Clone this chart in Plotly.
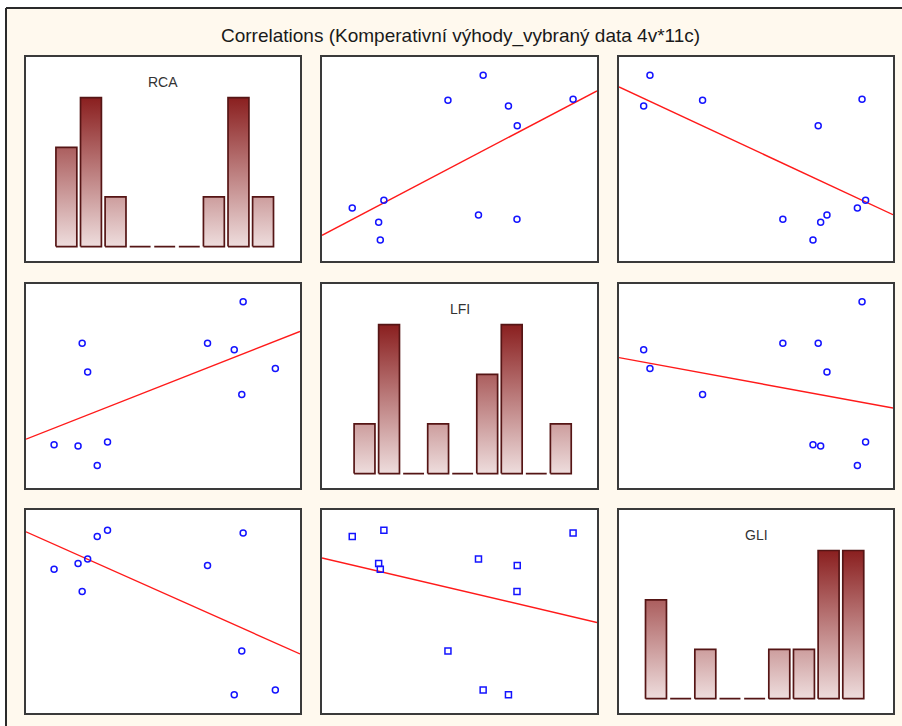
import numpy as np
import plotly.graph_objects as go

# ---------------- data (11 cases, 3 variables) ----------------
variables = ["RCA", "LFI", "GLI"]
rca = [3.17, 0.82, 2.65, 3.04, 0.90, 3.64, 3.15, 0.41, 0.76, 1.19, 1.04]
lfi = [8.26, 4.18, 4.20, 3.56, 1.38, 1.72, -0.84, -5.76, -5.88, -5.50, -7.80]
gli = [0.887, 0.598, 0.727, 0.090, 0.759, 0.113, 0.305, 0.708, 0.736, 0.900, 0.870]
n_bins = 9
title_text = "Correlations (Komperativní výhody_vybraný data 4v*11c)"

data = {"RCA": rca, "LFI": lfi, "GLI": gli}
var_ranges = {"RCA": [0, 4], "LFI": [-10, 10], "GLI": [0, 1]}

# ---------------- layout geometry (pixels) ----------------
W, H = 902, 726
col_px = [(26, 300), (322, 597), (619, 893)]
row_px = [(57, 261), (284, 488), (510, 713)]
hist_yrange = [-0.29, 3.82]

CREAM = "#FFF9EE"
BAR_LIGHT = "#EEDDDD"
BAR_DARK = "#8A1F1F"
BAR_EDGE = "#551515"
PT_COLOR = "#1414FF"

fig = go.Figure()
layout = dict(
    width=W, height=H,
    margin=dict(l=0, r=0, t=0, b=0),
    paper_bgcolor=CREAM, plot_bgcolor="white",
    showlegend=False,
)
annotations = []

for i, yv in enumerate(variables):
    for j, xv in enumerate(variables):
        k = i * 3 + j + 1
        xa = "x" if k == 1 else f"x{k}"
        ya = "y" if k == 1 else f"y{k}"
        xkey = "xaxis" if k == 1 else f"xaxis{k}"
        ykey = "yaxis" if k == 1 else f"yaxis{k}"
        x0p, x1p = col_px[j]
        y0p, y1p = row_px[i]
        common = dict(showgrid=False, zeroline=False, showticklabels=False, ticks="",
                      showline=True, mirror=True, linecolor="#3a3a3a", linewidth=1.6,
                      fixedrange=True)
        layout[xkey] = dict(domain=[x0p / W, x1p / W], anchor=ya,
                            range=var_ranges[xv], **common)
        if i == j:
            vals = np.array(data[xv], dtype=float)
            counts, edges = np.histogram(vals, bins=n_bins)
            gap = 0.15 * (edges[1] - edges[0])
            xs, ys = [], []
            for c, a, b in zip(counts, edges[:-1], edges[1:]):
                l, r = a + gap / 2, b - gap / 2
                xs += [l, l, r, r, l, None]
                ys += [0, c, c, 0, 0, None]
            fig.add_trace(go.Scatter(
                x=xs, y=ys, xaxis=xa, yaxis=ya, mode="lines", fill="toself",
                fillgradient=dict(type="vertical",
                                  colorscale=[[0, BAR_LIGHT], [1, BAR_DARK]],
                                  start=0, stop=float(counts.max())),
                line=dict(color=BAR_EDGE, width=1.7), hoverinfo="skip"))
            layout[ykey] = dict(domain=[1 - y1p / H, 1 - y0p / H], anchor=xa,
                                range=hist_yrange, **common)
            annotations.append(dict(
                text=xv, xref=f"{xa} domain", yref=f"{ya} domain", x=0.5, y=0.877,
                xanchor="center", yanchor="middle",
                showarrow=False, font=dict(family="Arial, Liberation Sans", size=14,
                                           color="#333333")))
        else:
            xd = np.array(data[xv], dtype=float)
            yd = np.array(data[yv], dtype=float)
            slope, icpt = np.polyfit(xd, yd, 1)
            lx = np.array(var_ranges[xv], dtype=float)
            fig.add_trace(go.Scatter(
                x=lx, y=icpt + slope * lx, xaxis=xa, yaxis=ya, mode="lines",
                line=dict(color="#FF1A1A", width=1.4), hoverinfo="skip"))
            sym = "square-open" if (i == 2 and j == 1) else "circle-open"
            fig.add_trace(go.Scatter(
                x=xd, y=yd, xaxis=xa, yaxis=ya, mode="markers",
                marker=dict(symbol=sym, size=6, color=PT_COLOR,
                            line=dict(color=PT_COLOR, width=1.5))))
            layout[ykey] = dict(domain=[1 - y1p / H, 1 - y0p / H], anchor=xa,
                                range=var_ranges[yv], **common)

annotations.append(dict(
    text=title_text, xref="paper", yref="paper", x=460 / W, y=1 - 36 / H,
    xanchor="center", yanchor="middle",
    showarrow=False, font=dict(family="Arial, Liberation Sans", size=19, color="#1a1a1a")))
layout["annotations"] = annotations

# outer frame: white margin strips + dark border line
layout["shapes"] = [
    dict(type="rect", xref="paper", yref="paper", x0=0, x1=6 / W, y0=0, y1=1,
         fillcolor="white", line=dict(width=0)),
    dict(type="rect", xref="paper", yref="paper", x0=0, x1=1, y0=1 - 8 / H, y1=1,
         fillcolor="white", line=dict(width=0)),
    dict(type="line", xref="paper", yref="paper", x0=6 / W, x1=1, y0=1 - 8 / H, y1=1 - 8 / H,
         line=dict(color="#2a2a2a", width=2)),
    dict(type="line", xref="paper", yref="paper", x0=6 / W, x1=6 / W, y0=0, y1=1 - 8 / H,
         line=dict(color="#2a2a2a", width=2)),
]

fig.update_layout(**layout)
fig.write_html("out.html", config={"displayModeBar": False},
               post_script="document.body.style.margin='0';document.body.style.overflow='hidden';")
